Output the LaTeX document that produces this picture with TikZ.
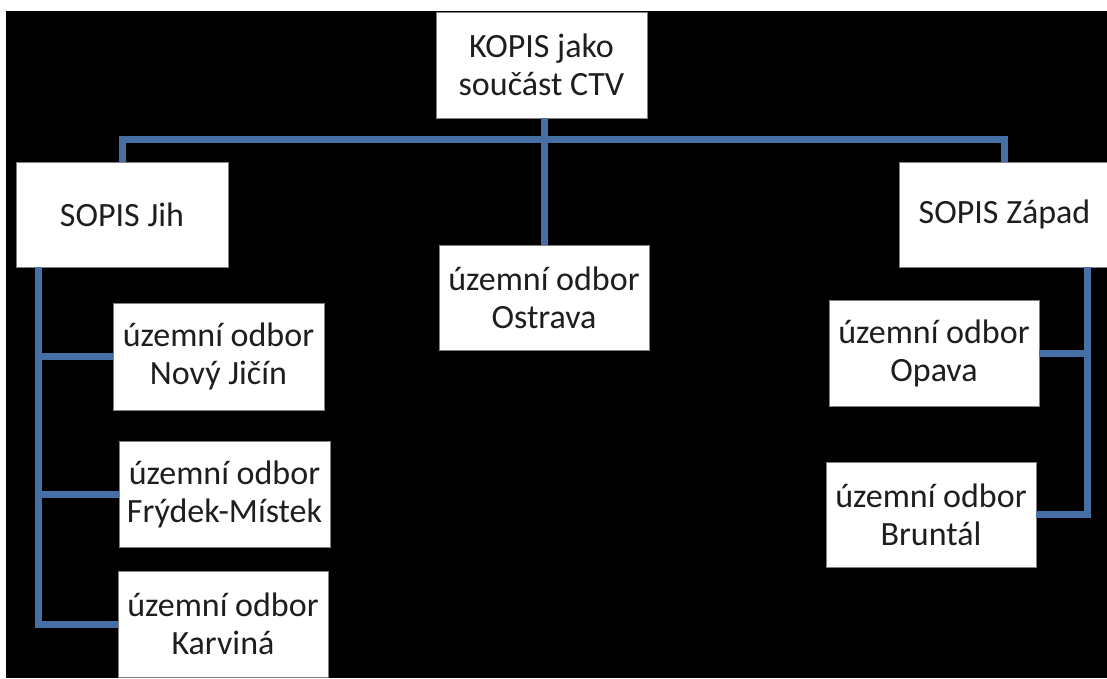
\documentclass[tikz,border=0pt]{standalone}
\usepackage{fontspec}
\setmainfont{Carlito}
\usetikzlibrary{calc}
\definecolor{linkblue}{RGB}{70,112,165}
\definecolor{boxedge}{RGB}{128,128,128}
\definecolor{ink}{RGB}{30,30,30}
\begin{document}
\begin{tikzpicture}[x=1pt,y=-1pt,
  unit/.style={draw=boxedge, line width=0.8pt, fill=white, text=ink,
    align=center, inner sep=0pt, minimum width=210pt, minimum height=106pt,
    font=\fontsize{34}{38}\selectfont},
  link/.style={draw=linkblue, line width=7pt, line join=miter}]
\useasboundingbox (0,0) rectangle (1107,678);
\clip (0,0) rectangle (1107,678);
% page and dark backdrop
\fill[white] (0,0) rectangle (1107,678);
\fill[black] (6,11) rectangle (1107,678);

% organisation units
\node[unit, minimum width=211pt] (kopis) at (541.5,65) {KOPIS jako\\součást CTV};
\node[unit, minimum width=212pt, minimum height=105pt] (jih) at (122,214.5) {SOPIS Jih};
\node[unit, minimum width=211pt, minimum height=105pt] (zapad) at (1004.5,214.5) {SOPIS Západ};
\node[unit, minimum height=105pt] (ostrava) at (544,297.5) {územní odbor\\Ostrava};
\node[unit, minimum width=211pt, minimum height=107pt] (novy) at (218.5,356.5) {územní odbor\\Nový Jičín};
\node[unit, minimum width=211pt] (frydek) at (224.5,494) {územní odbor\\Frýdek-Místek};
\node[unit] (karvina) at (223,624) {územní odbor\\Karviná};
\node[unit] (opava) at (934,353) {územní odbor\\Opava};
\node[unit, minimum height=105pt] (bruntal) at (931,514.5) {územní odbor\\Bruntál};

% trunk positions
\coordinate (bar) at (544,139.5);
\coordinate (lt) at (38,267);
\coordinate (rt) at (1087,267);

% connectors
\draw[link] (kopis.south -| ostrava.north) -- (ostrava.north);
\draw[link] (jih.north) |- (bar) -| (zapad.north);
\draw[link] (lt) |- (karvina.west);
\draw[link] (novy.west) -- (novy.west -| lt);
\draw[link] (frydek.west) -- (frydek.west -| lt);
\draw[link] (rt) |- (bruntal.east);
\draw[link] (opava.east) -- (opava.east -| rt);
\end{tikzpicture}
\end{document}
